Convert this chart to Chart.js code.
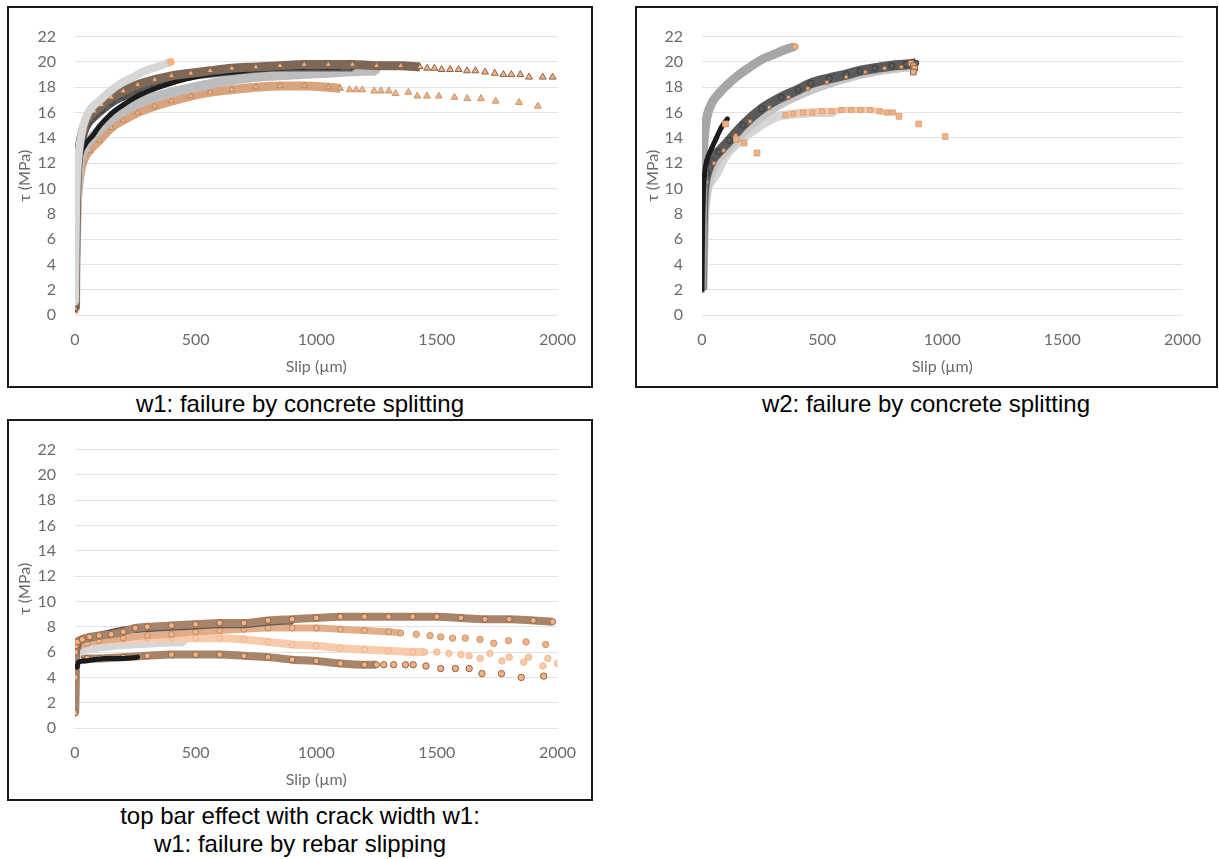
<!DOCTYPE html>
<html><head><meta charset="utf-8">
<script src="https://cdn.jsdelivr.net/npm/chart.js@4.4.1/dist/chart.umd.min.js"></script>
<style>
html,body{margin:0;padding:0;background:#fff;width:1219px;height:859px;overflow:hidden;position:relative;font-family:"Liberation Sans",Arial,sans-serif;}
.box{position:absolute;border:2px solid #1a1a1a;box-sizing:border-box;background:#fff;}
.box canvas{position:absolute;left:0;top:0;}
.cap{position:absolute;width:600px;font-size:24px;line-height:28px;color:#000;text-align:center;white-space:nowrap;}
</style></head>
<body>
<div class="box" style="left:7px;top:6px;width:586px;height:382px;"><canvas id="c1" width="582" height="378"></canvas></div>
<div class="box" style="left:635px;top:6px;width:583px;height:382px;"><canvas id="c2" width="579" height="378"></canvas></div>
<div class="box" style="left:7px;top:419px;width:586px;height:382px;"><canvas id="c3" width="582" height="378"></canvas></div>
<div class="cap" style="left:0px;top:390px;">w1: failure by concrete splitting</div>
<div class="cap" style="left:626px;top:390px;">w2: failure by concrete splitting</div>
<div class="cap" style="left:0px;top:802px;">top bar effect with crack width w1:<br>w1: failure by rebar slipping</div>
<script>
// ---------- axis ticks ----------
const xTicks = [0, 500, 1000, 1500, 2000];
const yTicks = [0, 2, 4, 6, 8, 10, 12, 14, 16, 18, 20, 22];
const xTitle = 'Slip (µm)';
const yTitle = 'τ (MPa)';

// ---------- panel 1 (w1, concrete splitting) : [slip µm, τ MPa] ----------
const p1LightGray = [[0,1],[2,5],[5,9],[10,11.5],[20,13.5],[35,15],[55,16],[80,16.6],[100,16.9],[140,17.6],[190,18.3],[240,18.8],[290,19.3],[340,19.6],[395,20.0]];
const p1LightGrayEnd = [[397,20.0]];
const p1TriUpper = [[0,0.5],[2,4],[4,7],[7,10],[12,12],[20,13.5],[35,14.8],[55,15.6],[80,16.1],[110,16.6],[150,17.2],[200,17.7],[260,18.2],[330,18.6],[400,18.9],[480,19.1],[560,19.3],[650,19.5],[750,19.6],[850,19.7],[950,19.8],[1050,19.8],[1150,19.8],[1250,19.7],[1350,19.7],[1430,19.6]];
const p1TriUpperTail = [[1460,19.5],[1490,19.5],[1520,19.4],[1555,19.4],[1590,19.4],[1625,19.3],[1660,19.3],[1700,19.2],[1740,19.1],[1776,19.0],[1809,19.0],[1846,19.0],[1882,18.8],[1939,18.8],[1980,18.8]];
const p1Dark = [[0,0.5],[2,4],[4,7.5],[7,10],[12,12],[20,13.2],[35,14.4],[55,15.2],[80,15.7],[110,16.2],[150,16.8],[200,17.3],[260,17.8],[330,18.2],[400,18.6],[480,18.9],[560,19.1],[650,19.3],[750,19.5],[850,19.6],[950,19.6],[1050,19.6],[1150,19.6]];
const p1Black = [[0,0.5],[3,5],[6,8.5],[10,10.5],[20,12.3],[40,13.4],[75,14.2],[100,14.9],[150,15.9],[200,16.6],[260,17.3],[320,17.8],[380,18.2],[450,18.6],[550,19.0],[650,19.2],[750,19.4],[850,19.5],[950,19.6],[1050,19.6],[1100,19.6]];
const p1Gray = [[0,0.5],[3,4.5],[6,8],[10,10],[20,12],[40,13.2],[70,14],[100,14.6],[150,15.5],[200,16.1],[260,16.7],[330,17.2],[400,17.6],[500,18.0],[600,18.4],[700,18.7],[800,18.9],[900,19.0],[1000,19.1],[1100,19.2],[1200,19.3],[1250,19.3]];
const p1TriLower = [[0,0.3],[3,4],[6,7],[10,9],[20,11],[35,12.2],[60,13],[100,13.8],[150,14.8],[200,15.4],[260,16.0],[330,16.5],[400,16.9],[480,17.3],[560,17.6],[650,17.8],[750,18.0],[850,18.1],[950,18.1],[1050,18.0],[1100,17.9]];
const p1TriLowerTail = [[1138,17.8],[1166,17.8],[1191,17.8],[1240,17.7],[1268,17.7],[1301,17.7],[1329,17.5],[1382,17.6],[1419,17.3],[1459,17.3],[1508,17.3],[1573,17.2],[1626,17.1],[1683,17.1],[1744,16.9],[1841,16.8],[1919,16.5]];

// ---------- panel 2 (w2, concrete splitting) ----------
const p2Gray = [[0,2],[1,5],[2,8],[4,11],[8,13.5],[15,15],[25,16],[45,16.9],[70,17.5],[100,18.1],[155,19.0],[200,19.6],[250,20.2],[300,20.6],[350,21.0],[385,21.2]];
const p2GrayEnd = [[388,21.2]];
const p2Black = [[0,2],[2,6],[5,9],[10,11],[20,12.2],[41,13.2],[60,14],[80,14.8],[98,15.3],[106,15.5]];
const p2BlackTail = [[98,15.1],[143,13.9],[175,13.6],[229,12.8]];
const p2Dark = [[0,2],[1,4],[2,6],[4,8],[7,9.5],[12,10.5],[20,11.2],[40,12.2],[70,12.9],[114,13.8],[170,15],[249,16.3],[330,17.2],[400,17.8],[453,18.3],[530,18.7],[600,19.0],[657,19.3],[720,19.5],[790,19.7],[850,19.8],[890,19.9]];
const p2DarkEnd = [[870,19.9],[880,19.7],[885,19.5],[880,19.2]];
const p2SqMid = [[0,2],[3,5],[8,8.5],[20,10.5],[50,12],[90,13],[140,14.2],[200,15.3],[280,16.4],[360,17.2],[440,17.9],[520,18.4],[600,18.8],[680,19.2],[760,19.5],[830,19.6],[870,19.8]];
const p2Halo = [[0,2],[5,7],[15,9.5],[30,11],[60,12.2],[110,13.3],[170,14.5],[250,15.8],[330,16.8],[420,17.6],[500,18.2],[580,18.7],[660,19.1],[740,19.4],[820,19.6],[870,19.7]];
const p2LightGray = [[0,2],[3,5],[8,8],[20,9.8],[40,10.6],[61,11.2],[100,12.6],[155,13.7],[230,14.8],[318,15.7],[400,15.9],[480,16.0],[550,16.0]];
const p2SqLower = [[347,15.8],[380,15.9],[420,16.0],[460,16.0],[500,16.1],[540,16.1],[580,16.2],[620,16.2],[660,16.2],[700,16.2],[740,16.1],[770,16.0],[796,16.0]];
const p2SqLowerTail = [[820,15.7],[902,15.1],[1012,14.1]];

// ---------- panel 3 (top bar effect, rebar slipping) ----------
const p3Top = [[0,1.2],[1,4],[2,6],[4,6.5],[10,6.8],[30,7.0],[60,7.2],[100,7.3],[150,7.4],[200,7.6],[250,7.9],[300,8.0],[400,8.1],[500,8.2],[600,8.3],[700,8.3],[800,8.5],[900,8.6],[1000,8.7],[1100,8.8],[1200,8.8],[1300,8.8],[1400,8.8],[1500,8.8],[1600,8.7],[1700,8.6],[1800,8.6],[1900,8.5],[1980,8.4]];
const p3DarkTop = [[0,1.2],[3,5.5],[8,6.5],[20,6.9],[50,7.1],[100,7.3],[150,7.5],[200,7.7],[300,7.9],[400,8.0],[500,8.1],[600,8.2],[700,8.2],[800,8.4],[900,8.5]];
const p3Mid = [[0,1.2],[2,5],[5,6],[15,6.4],[50,6.7],[100,6.9],[200,7.1],[300,7.3],[400,7.4],[500,7.6],[600,7.7],[700,7.8],[800,7.9],[900,7.9],[1000,7.9],[1100,7.8],[1200,7.7],[1300,7.6],[1350,7.5]];
const p3MidTail = [[1415,7.4],[1472,7.3],[1516,7.2],[1565,7.1],[1618,7.1],[1679,7.0],[1736,6.7],[1797,6.9],[1870,6.8],[1951,6.6]];
const p3Light = [[0,1.2],[2,5],[5,6.2],[20,6.6],[100,6.9],[200,7.0],[300,7.1],[400,7.1],[500,7.1],[600,7.1],[700,7.0],[800,6.8],[900,6.6],[1000,6.5],[1100,6.3],[1200,6.2],[1300,6.1],[1400,6.0],[1450,6.0]];
const p3LightTail = [[1500,6.0],[1550,5.9],[1600,5.8],[1634,5.7],[1680,5.5],[1720,5.9],[1770,5.3],[1800,5.6],[1860,5.2],[1880,5.6],[1940,4.9],[1960,5.5],[2000,5.1]];
const p3LightGray = [[0,1.2],[2,4],[5,5.5],[15,6.0],[40,6.2],[100,6.4],[200,6.6],[300,6.7],[400,6.8],[450,6.8]];
const p3Bottom = [[0,1.2],[2,4.5],[5,5.2],[20,5.4],[50,5.5],[100,5.5],[200,5.6],[300,5.7],[400,5.8],[500,5.8],[600,5.8],[700,5.7],[800,5.6],[900,5.4],[1000,5.3],[1100,5.1],[1200,5.0],[1250,5.0]];
const p3BottomTail = [[1280,5.0],[1321,5.0],[1370,5.0],[1402,5.0],[1455,4.9],[1516,4.7],[1577,4.7],[1634,4.7],[1687,4.3],[1768,4.3],[1850,4.0],[1943,4.1]];
const p3Black = [[8,4.8],[15,5.2],[40,5.3],[80,5.4],[130,5.5],[200,5.5],[260,5.6]];

// ---------- styling helpers ----------
const ORANGE = '#f4b183', EDGE = '#8a6549', LORANGE = '#f8cbad';
const BLACK = '#1c1c1c', DARK = '#5a5a5a', GRAY = '#a6a6a6', LGRAY = '#d6d6d6';

function ds(pts, o) {
  return {
    data: pts.map(p => ({x: p[0], y: p[1]})),
    showLine: !!o.lw,
    borderWidth: o.lw || 0,
    borderColor: o.line || o.fill,
    pointStyle: o.ps || 'circle',
    pointRadius: o.r !== undefined ? o.r : 3,
    pointBackgroundColor: o.fill,
    pointBorderColor: o.edge || o.fill,
    pointBorderWidth: o.ew !== undefined ? o.ew : 1,
    pointHoverRadius: 0,
    cubicInterpolationMode: 'monotone'
  };
}

const tickFont = {family: 'Lato', size: 16};
function makeChart(id, datasets, yAxisWidth, rightPad) {
  new Chart(document.getElementById(id), {
    type: 'scatter',
    data: {datasets},
    options: {
      responsive: false, animation: false, events: [],
      layout: {padding: {left: 0, top: 27, right: rightPad, bottom: 0}},
      plugins: {legend: {display: false}, tooltip: {enabled: false}},
      scales: {
        x: {
          type: 'linear', min: xTicks[0], max: xTicks[xTicks.length - 1],
          afterBuildTicks: s => { s.ticks = xTicks.map(v => ({value: v})); },
          grid: {display: false, drawTicks: false},
          border: {display: false},
          ticks: {font: tickFont, color: '#6b6b6b', padding: 15, maxRotation: 0, callback: v => String(v)},
          title: {display: true, text: xTitle, font: tickFont, color: '#6b6b6b', padding: {top: 4, bottom: 10}},
          afterFit: s => { s.height = 71; }
        },
        y: {
          type: 'linear', min: yTicks[0], max: yTicks[yTicks.length - 1],
          afterBuildTicks: s => { s.ticks = yTicks.map(v => ({value: v})); },
          grid: {color: '#e2e2e2', lineWidth: 1, drawTicks: false},
          border: {display: false},
          ticks: {font: tickFont, color: '#6b6b6b', padding: 19, callback: v => String(v)},
          title: {display: true, text: yTitle, font: tickFont, color: '#6b6b6b', padding: {top: 6, bottom: 0}},
          afterFit: s => { s.width = yAxisWidth; }
        }
      }
    }
  });
}

// panel 1
makeChart('c1', [
  ds(p1LightGrayEnd, {fill: ORANGE, edge: ORANGE, r: 3.5}),
  ds(p1LightGray, {fill: LGRAY, lw: 8, r: 3}),
  ds(p1TriUpperTail, {fill: ORANGE, edge: EDGE, ps: 'triangle', r: 4}),
  ds(p1TriUpper, {fill: ORANGE, edge: EDGE, line: '#7d6858', ps: 'triangle', r: 3.5, lw: 9}),
  ds(p1Black, {fill: BLACK, lw: 5, r: 2}),
  ds(p1Dark, {fill: DARK, edge: '#3c3c3c', lw: 9, r: 3}),
  ds(p1Gray, {fill: '#bdbdbd', lw: 10, r: 3}),
  ds(p1TriLowerTail, {fill: ORANGE, edge: '#c9966f', ps: 'triangle', r: 4}),
  ds(p1TriLower, {fill: ORANGE, edge: '#b98a68', line: '#d9a37e', ps: 'triangle', r: 3.5, lw: 9})
], 66, 24);

// panel 2
makeChart('c2', [
  ds(p2BlackTail, {fill: ORANGE, edge: '#d39a70', ps: 'rect', r: 4}),
  ds(p2Black, {fill: BLACK, lw: 5, r: 2}),
  ds(p2GrayEnd, {fill: ORANGE, edge: '#c48e68', r: 3}),
  ds(p2Gray, {fill: GRAY, lw: 9, r: 3}),
  ds(p2DarkEnd, {fill: ORANGE, edge: EDGE, ps: 'rect', r: 4}),
  ds(p2SqMid, {fill: ORANGE, edge: EDGE, ps: 'rect', r: 2.5}),
  ds(p2Dark, {fill: DARK, edge: '#3a3a3a', lw: 10, r: 3}),
  ds(p2Halo, {fill: '#c6c6c6', lw: 11, r: 3}),
  ds(p2SqLowerTail, {fill: ORANGE, edge: '#e0a77d', ps: 'rect', r: 4}),
  ds(p2SqLower, {fill: ORANGE, edge: '#d9a37e', line: '#f3c7a6', ps: 'rect', r: 3.5, lw: 6}),
  ds(p2LightGray, {fill: LGRAY, lw: 9, r: 3})
], 65, 24);

// panel 3
makeChart('c3', [
  ds(p3Black, {fill: BLACK, lw: 5, r: 2}),
  ds(p3Top, {fill: ORANGE, edge: EDGE, line: '#a8846a', r: 3, lw: 8}),
  ds(p3DarkTop, {fill: DARK, edge: '#444', lw: 8, r: 3}),
  ds(p3MidTail, {fill: ORANGE, edge: '#c9966f', r: 3.2}),
  ds(p3Mid, {fill: ORANGE, edge: '#b98a68', line: '#e2ad88', r: 3, lw: 7}),
  ds(p3LightTail, {fill: LORANGE, edge: '#f3b58b', r: 3.2}),
  ds(p3Light, {fill: LORANGE, edge: '#f3b58b', r: 3, lw: 8}),
  ds(p3LightGray, {fill: LGRAY, lw: 9, r: 3}),
  ds(p3BottomTail, {fill: ORANGE, edge: EDGE, r: 3.2}),
  ds(p3Bottom, {fill: ORANGE, edge: EDGE, line: '#a8846a', r: 3, lw: 8})
], 66, 24);
</script>
</body></html>
